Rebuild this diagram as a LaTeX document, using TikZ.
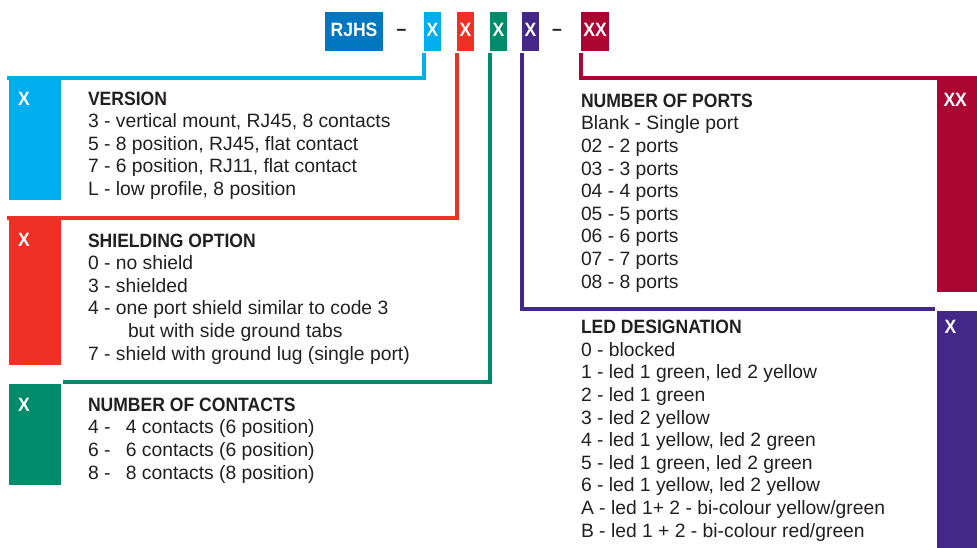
\documentclass[tikz,border=0pt]{standalone}
\usepackage{fontspec}
\setmainfont{Liberation Sans}[BoldFeatures={FakeStretch=0.91}]
\usetikzlibrary{positioning}

\definecolor{rjblue}{HTML}{0077C0}
\definecolor{vcyan}{HTML}{00AEEF}
\definecolor{sred}{HTML}{EE3124}
\definecolor{cgreen}{HTML}{008B6A}
\definecolor{lpurple}{HTML}{43288A}
\definecolor{pred}{HTML}{AB0534}
\definecolor{ink}{HTML}{231F20}

\begin{document}
\begin{tikzpicture}[x=1pt,y=-1pt,line width=4pt]
	\tikzstyle{code}=[inner sep=0pt,text=white,
	font=\bfseries\fontsize{19.3}{22.6}\selectfont
	]
	\tikzstyle{codebox}=[code, anchor=north west, minimum height=39pt, text depth=4pt];
	\tikzstyle{block}=[anchor=north west, inner sep=0pt, minimum width=52pt];
	\tikzstyle{txt}=[anchor=base west, align=left, inner sep=0pt, text=ink,
	font=\fontsize{19.3}{22.6}\selectfont];
\useasboundingbox (0,0) rectangle (977,548);

% part number
\node[codebox, fill=rjblue, minimum width=58pt](rjhs) at (323,10){RJHS};
\node[txt, anchor=base](d1) at (401.5,36){\textbf{\textendash}};
\node[codebox, fill=vcyan, minimum width=17pt](xv) at (422,10){X};
\node[codebox, fill=sred, minimum width=17pt](xs) at (455,10){X};
\node[codebox, fill=cgreen, minimum width=17pt](xc) at (488,10){X};
\node[codebox, fill=lpurple, minimum width=17pt](xl) at (520,10){X};
\node[txt, anchor=base](d2) at (557,36){\textbf{\textendash}};
\node[codebox, fill=pred, minimum width=28pt](xp) at (579,10){XX};

% coloured side blocks
\node[block, fill=vcyan, minimum height=120pt](bv) at (7,78){};
\node[block, fill=sred, minimum height=145pt](bs) at (7,218){};
\node[block, fill=cgreen, minimum height=101pt](bc) at (7,382){};
\node[block, fill=pred, minimum width=42pt, minimum height=212pt](bp) at (935,78){};
\node[block, fill=lpurple, minimum width=42pt, minimum height=240pt](bl) at (935,309){};

\draw [vcyan] ([xshift=2pt]xv.south west) |- (bv.north west);
\draw [sred] ([xshift=2pt]xs.south west) |- (bs.north west);
\draw [cgreen] ([xshift=2pt]xc.south west) |- (bc.north east);
\draw [lpurple] ([xshift=2pt]xl.south west) |- (bl.north west);
\draw [pred] ([xshift=2pt]xp.south west) |- (bp.north east);

\node[code, anchor=base west](lv) at (16,106){X};
\node[code, anchor=base west](ls) at (16,246.5){X};
\node[code, anchor=base west](lc) at (16,411){X};
\node[code, anchor=base west](lp) at (941.5,106.5){XX};
\node[code, anchor=base west](ll) at (942.5,333){X};

% option lists (anchored on the last line)
\node[txt](tv) at (86,195.5){\textbf{VERSION}\\
3 - vertical mount, RJ45, 8 contacts\\
5 - 8 position, RJ45, flat contact\\
7 - 6 position, RJ11, flat contact\\
L - low profile, 8 position};
\node[txt](ts) at (86,360){\textbf{SHIELDING OPTION}\\
0 - no shield\\
3 - shielded\\
4 - one port shield similar to code 3\\
\hspace*{40pt}but with side ground tabs\\
7 - shield with ground lug (single port)};
\node[txt](tc) at (86,479){\textbf{NUMBER OF CONTACTS}\\
4 - \hspace{10pt}4 contacts (6 position)\\
6 - \hspace{10pt}6 contacts (6 position)\\
8 - \hspace{10pt}8 contacts (8 position)};
\node[txt](tp) at (579,288){\textbf{NUMBER OF PORTS}\\
Blank - Single port\\
02 - 2 ports\\
03 - 3 ports\\
04 - 4 ports\\
05 - 5 ports\\
06 - 6 ports\\
07 - 7 ports\\
08 - 8 ports};
\node[txt](tl) at (579,537){\textbf{LED DESIGNATION}\\
0 - blocked\\
1 - led 1 green, led 2 yellow\\
2 - led 1 green\\
3 - led 2 yellow\\
4 - led 1 yellow, led 2 green\\
5 - led 1 green, led 2 green\\
6 - led 1 yellow, led 2 yellow\\
A - led 1+ 2 - bi-colour yellow/green\\
B - led 1 + 2 - bi-colour red/green};

\end{tikzpicture}
\end{document}
